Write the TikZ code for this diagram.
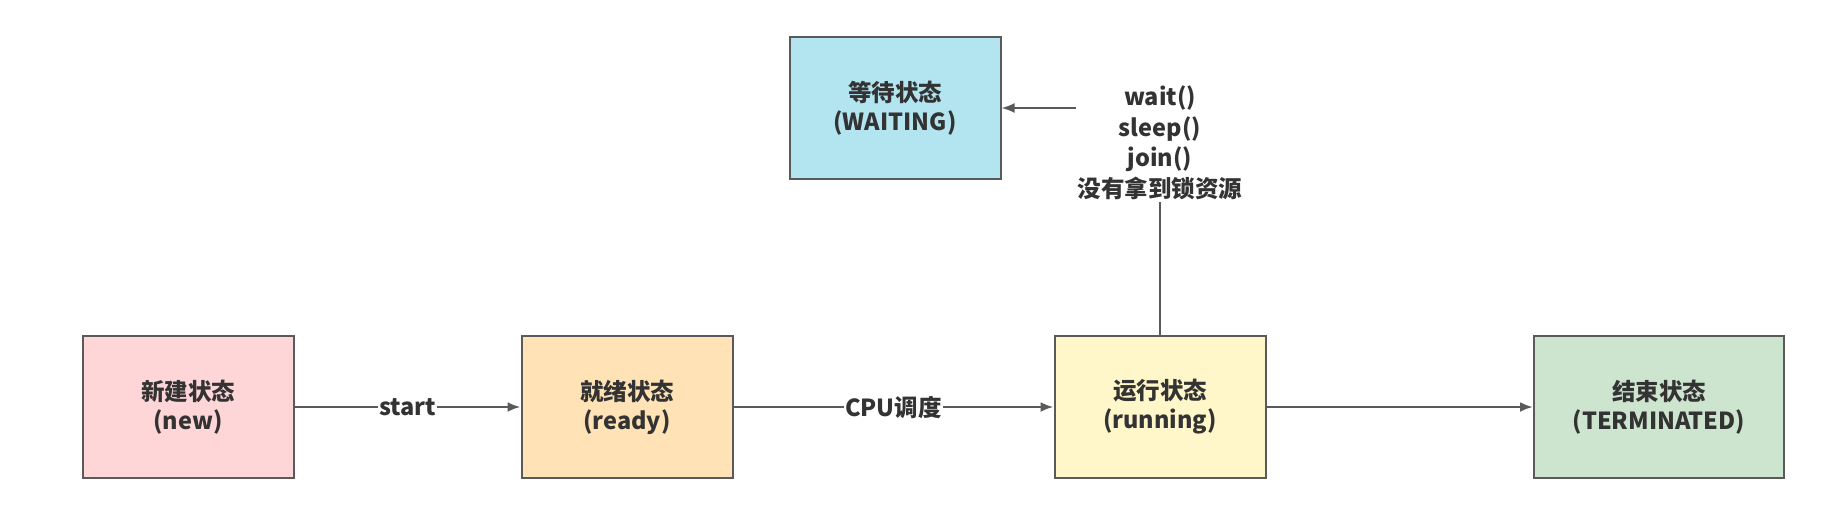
\documentclass[tikz,border=0pt]{standalone}
\usepackage{fontspec}
\setmainfont{Noto Sans CJK SC}
\usetikzlibrary{arrows.meta}
\definecolor{bord}{HTML}{5A5A5A}
\definecolor{txt}{HTML}{333333}
\definecolor{cnew}{HTML}{FFD6D8}
\definecolor{cready}{HTML}{FFE3B6}
\definecolor{crun}{HTML}{FFF6C9}
\definecolor{cterm}{HTML}{CDE5CE}
\definecolor{cwait}{HTML}{B3E5F1}
\tikzset{
  statebox/.style={draw=bord, line width=2pt, minimum width=211pt, minimum height=142pt, align=center, text=txt, font=\fontsize{23.5}{29}\selectfont\bfseries},
  conn/.style={draw=bord, line width=2.5pt, -{Latex[length=13pt,width=10pt]}},
  plain/.style={draw=bord, line width=2pt},
  elabel/.style={fill=white, text=txt, inner sep=1pt, font=\fontsize{23.5}{29}\selectfont\bfseries},
}
\begin{document}
\begin{tikzpicture}[x=1pt,y=-1pt]
\useasboundingbox[fill=white] (0,0) rectangle (1838,504);
\node[statebox, fill=cnew] (new) at (188,407) {新建状态\\(new)};
\node[statebox, fill=cready] (ready) at (627,407) {就绪状态\\(ready)};
\node[statebox, fill=crun] (run) at (1160,407) {运行状态\\(running)};
\node[statebox, fill=cterm, minimum width=250pt] (term) at (1659,407) {结束状态\\(TERMINATED)};
\node[statebox, fill=cwait] (wait) at (895,108) {等待状态\\(WAITING)};
\node[align=center, text=txt, inner sep=2pt, font=\fontsize{23.5}{30.5}\selectfont\bfseries] (lab) at (1160,143) {wait()\\sleep()\\join()\\没有拿到锁资源};
\coordinate (wstart) at (lab.west |- wait.east);
\draw[conn] (new) -- node[elabel] {start} (ready);
\draw[conn] (ready) -- node[elabel] {CPU调度} (run);
\draw[conn] (run) -- (term);
\draw[plain] (run.north) -- (lab.south);
\draw[conn, line width=2pt] (wstart) -- (wait.east);
\end{tikzpicture}
\end{document}
